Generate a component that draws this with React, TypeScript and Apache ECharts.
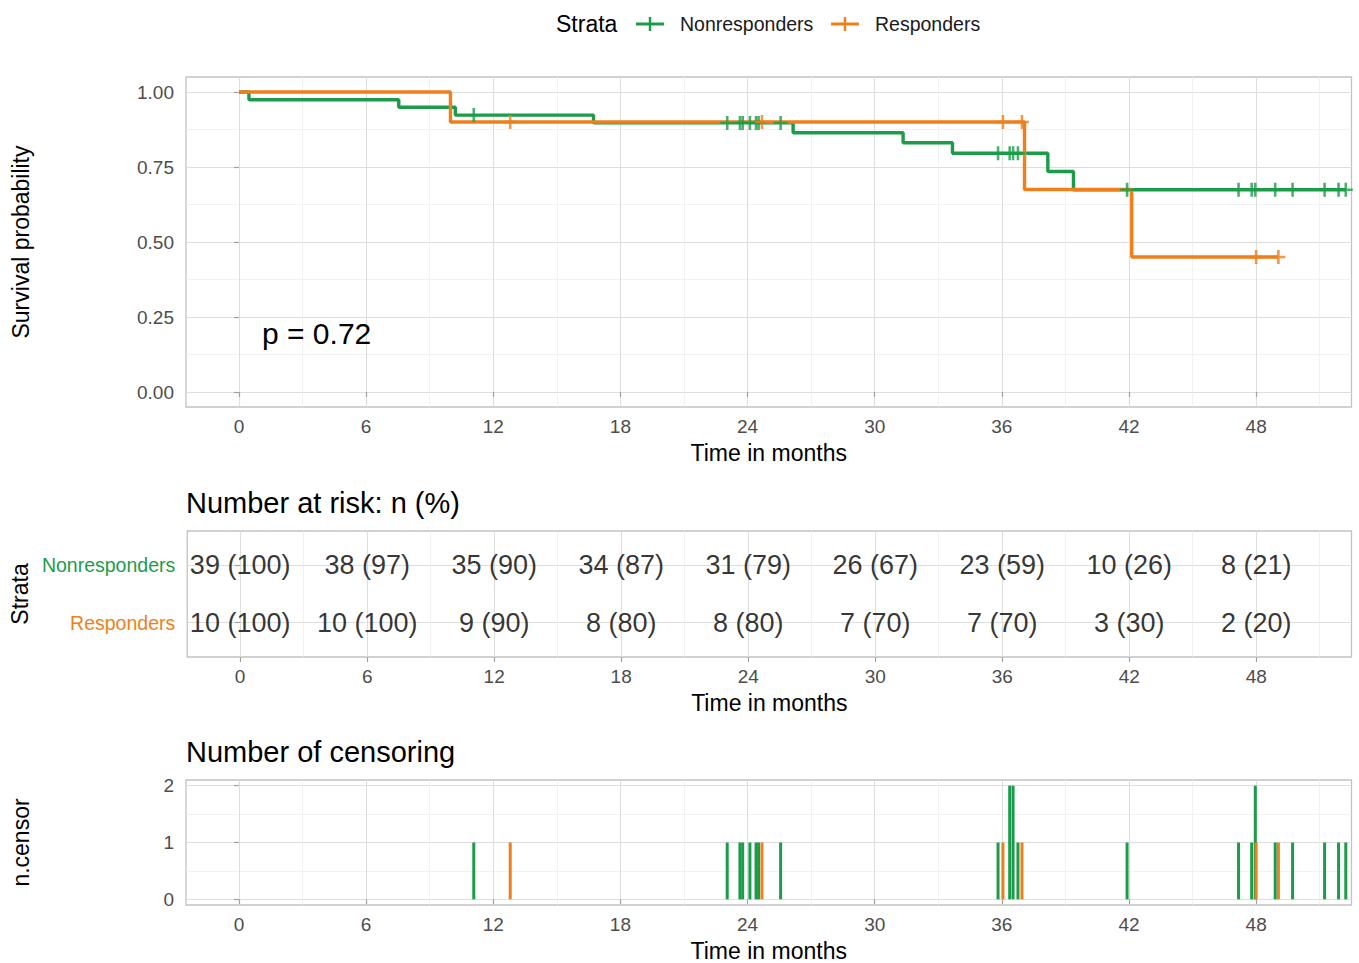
import React, { useEffect, useRef } from 'react';
import * as echarts from 'echarts';

const FONT = "'Liberation Sans', Arial, Helvetica, sans-serif";
const GREEN = '#1c9c4a';
const ORANGE = '#ef7f1a';

const strata = ['Nonresponders', 'Responders'];
const xTicks = [0, 6, 12, 18, 24, 30, 36, 42, 48];
const xMinorTicks = [3, 9, 15, 21, 27, 33, 39, 45, 51];
const survTicks = [0, 0.25, 0.5, 0.75, 1];
const survMinorTicks = [0.125, 0.375, 0.625, 0.875];
const censorTicks = [0, 1, 2];
const censorMinorTicks = [0.5, 1.5];

// Kaplan-Meier step curves (time, survival)
const nonrespTimes = [0, 0.47, 7.54, 10.21, 16.73, 26.15, 31.34, 33.67, 38.17, 39.38, 52.23];
const nonrespSurv = [1, 0.974, 0.949, 0.923, 0.897, 0.864, 0.831, 0.796, 0.735, 0.674, 0.674];
const respTimes = [0, 9.98, 37.07, 42.13, 49.05];
const respSurv = [1, 0.9, 0.675, 0.45, 0.45];

// censoring times and counts
const nonrespCensorTimes = [11.08, 23.04, 23.64, 23.77, 24.11, 24.4, 24.52, 25.56, 35.82, 36.37, 36.53, 36.76, 41.91, 47.17, 47.79, 47.96, 48.9, 49.72, 51.23, 51.89, 52.23];
const nonrespCensorCounts = [1, 1, 1, 1, 1, 1, 1, 1, 1, 2, 2, 1, 1, 1, 1, 2, 1, 1, 1, 1, 1];
const respCensorTimes = [12.8, 24.68, 36.05, 36.95, 48.0, 49.05];
const respCensorCounts = [1, 1, 1, 1, 1, 1];

// number at risk
const nonrespAtRisk = [39, 38, 35, 34, 31, 26, 23, 10, 8];
const nonrespPct = [100, 97, 90, 87, 79, 67, 59, 26, 21];
const respAtRisk = [10, 10, 9, 8, 8, 7, 7, 3, 2];
const respPct = [100, 100, 90, 80, 80, 70, 70, 30, 20];

const pValueText = 'p = 0.72';

const X_MIN = -2.5;
const X_MAX = 52.5;

function survAt(times: number[], surv: number[], t: number) {
  let s = surv[0];
  for (let i = 0; i < times.length; i++) {
    if (times[i] <= t) s = surv[i];
  }
  return s;
}

const tickStyle = { length: 5, lineStyle: { color: '#a0a0a0', width: 1.2 } };
const labelStyle = { fontSize: 19, color: '#4d4d4d', fontFamily: FONT };
const majorSplit = { show: true, lineStyle: { color: '#dedede', width: 1.1 } };
const minorSplit = { show: true, lineStyle: { color: '#eeeeee', width: 0.8 } };
const nameStyle = { fontSize: 23, color: '#000', fontFamily: FONT };

function makeXAxes(gridIndex: number) {
  return [
    {
      type: 'value', gridIndex, min: X_MIN, max: X_MAX, position: 'bottom',
      name: 'Time in months', nameLocation: 'middle', nameGap: 34, nameTextStyle: nameStyle,
      axisLine: { show: false },
      axisTick: { show: true, ...tickStyle, customValues: xTicks },
      axisLabel: { ...labelStyle, margin: 10, customValues: xTicks, formatter: (v: number) => String(v) },
      splitLine: majorSplit,
    },
    {
      type: 'value', gridIndex, min: X_MIN, max: X_MAX, position: 'bottom',
      axisLine: { show: false },
      axisTick: { show: false, customValues: xMinorTicks },
      axisLabel: { show: false, customValues: xMinorTicks },
      splitLine: minorSplit,
    },
  ];
}

function censorSeries(name: string, times: number[], counts: number[], color: string) {
  return {
    type: 'custom', name, xAxisIndex: 4, yAxisIndex: 3, clip: true,
    data: times.map((t, i) => [t, counts[i]]),
    encode: { x: 0, y: 1 },
    renderItem: (params: any, api: any) => {
      const x = api.value(0);
      const n = api.value(1);
      const p0 = api.coord([x, 0]);
      const p1 = api.coord([x, n]);
      return {
        type: 'line',
        shape: { x1: p0[0], y1: p0[1], x2: p1[0], y2: p1[1] },
        style: { stroke: color, lineWidth: 3 },
      };
    },
  };
}

function riskSeries(name: string, row: number, counts: number[], pcts: number[]) {
  return {
    type: 'scatter', name, xAxisIndex: 2, yAxisIndex: 2,
    symbolSize: 1, itemStyle: { color: 'rgba(0,0,0,0)' },
    data: xTicks.map((t, i) => ({ value: [t, row], label: { formatter: `${counts[i]} (${pcts[i]})` } })),
    label: { show: true, position: 'inside', fontSize: 27, color: '#000', fontFamily: FONT },
    z: 10,
  };
}

const plusSymbol = 'path://M5.7,0H8.3V5.8H14V8.2H8.3V14H5.7V8.2H0V5.8H5.7Z';

export default function App() {
  const ref = useRef<HTMLDivElement>(null);
  useEffect(() => {
    if (!ref.current) return;
    const chart = echarts.init(ref.current, undefined, { renderer: 'svg' });
    const gridCommon = { left: 186, width: 1165.5, show: true, borderColor: '#c2c2c2', borderWidth: 1.3, containLabel: false };
    const titleStyle = { fontWeight: 'normal', color: '#000', fontFamily: FONT };
    const option: any = {
      animation: false,
      backgroundColor: '#ffffff',
      textStyle: { fontFamily: FONT },
      title: [
        { text: 'Number at risk: n (%)', left: 186, top: 488, padding: 0, textStyle: { fontSize: 29, ...titleStyle } },
        { text: 'Number of censoring', left: 186, top: 737, padding: 0, textStyle: { fontSize: 29, ...titleStyle } },
        { text: pValueText, left: 262, top: 318, padding: 0, textStyle: { fontSize: 30, ...titleStyle } },
      ],
      grid: [
        { ...gridCommon, top: 77, height: 330 },
        { ...gridCommon, top: 531, height: 126 },
        { ...gridCommon, top: 780, height: 127 },
      ],
      xAxis: [...makeXAxes(0), ...makeXAxes(1), ...makeXAxes(2)],
      yAxis: [
        {
          type: 'value', gridIndex: 0, min: -0.05, max: 1.05,
          name: 'Survival probability', nameLocation: 'middle', nameGap: 154, nameTextStyle: nameStyle,
          axisLine: { show: false },
          axisTick: { show: true, ...tickStyle, customValues: survTicks },
          axisLabel: { ...labelStyle, margin: 12, customValues: survTicks, formatter: (v: number) => v.toFixed(2) },
          splitLine: majorSplit,
        },
        {
          type: 'value', gridIndex: 0, min: -0.05, max: 1.05,
          axisLine: { show: false },
          axisTick: { show: false, customValues: survMinorTicks },
          axisLabel: { show: false, customValues: survMinorTicks },
          splitLine: minorSplit,
        },
        {
          type: 'value', gridIndex: 1, min: 0.4, max: 2.6,
          name: 'Strata', nameLocation: 'middle', nameGap: 154, nameTextStyle: nameStyle,
          axisLine: { show: false },
          axisTick: { show: true, ...tickStyle, customValues: [1, 2] },
          axisLabel: {
            ...labelStyle, margin: 12, customValues: [1, 2],
            formatter: (v: number) => (v === 2 ? '{g|' + strata[0] + '}' : '{o|' + strata[1] + '}'),
            rich: {
              g: { color: GREEN, fontSize: 19.5, fontFamily: FONT },
              o: { color: ORANGE, fontSize: 19.5, fontFamily: FONT },
            },
          },
          splitLine: majorSplit,
        },
        {
          type: 'value', gridIndex: 2, min: -0.1, max: 2.1,
          name: 'n.censor', nameLocation: 'middle', nameGap: 154, nameTextStyle: nameStyle,
          axisLine: { show: false },
          axisTick: { show: true, ...tickStyle, customValues: censorTicks },
          axisLabel: { ...labelStyle, margin: 12, customValues: censorTicks, formatter: (v: number) => String(v) },
          splitLine: majorSplit,
        },
        {
          type: 'value', gridIndex: 2, min: -0.1, max: 2.1,
          axisLine: { show: false },
          axisTick: { show: false, customValues: censorMinorTicks },
          axisLabel: { show: false, customValues: censorMinorTicks },
          splitLine: minorSplit,
        },
      ],
      series: [
        {
          type: 'line', name: strata[0], xAxisIndex: 0, yAxisIndex: 0, step: 'end', showSymbol: false,
          data: nonrespTimes.map((t, i) => [t, nonrespSurv[i]]),
          lineStyle: { color: GREEN, width: 3.4 }, itemStyle: { color: GREEN }, z: 3,
        },
        {
          type: 'line', name: strata[1], xAxisIndex: 0, yAxisIndex: 0, step: 'end', showSymbol: false,
          data: respTimes.map((t, i) => [t, respSurv[i]]),
          lineStyle: { color: ORANGE, width: 3.4 }, itemStyle: { color: ORANGE }, z: 4,
        },
        {
          type: 'scatter', name: strata[0] + ' censored', xAxisIndex: 0, yAxisIndex: 0,
          symbol: plusSymbol, symbolSize: 14,
          data: nonrespCensorTimes.map((t) => [t, survAt(nonrespTimes, nonrespSurv, t)]),
          itemStyle: { color: GREEN }, z: 5,
        },
        {
          type: 'scatter', name: strata[1] + ' censored', xAxisIndex: 0, yAxisIndex: 0,
          symbol: plusSymbol, symbolSize: 14,
          data: respCensorTimes.map((t) => [t, survAt(respTimes, respSurv, t)]),
          itemStyle: { color: ORANGE }, z: 6,
        },
        riskSeries('risk ' + strata[0], 2, nonrespAtRisk, nonrespPct),
        riskSeries('risk ' + strata[1], 1, respAtRisk, respPct),
        censorSeries(strata[0] + ' n.censor', nonrespCensorTimes, nonrespCensorCounts, GREEN),
        censorSeries(strata[1] + ' n.censor', respCensorTimes, respCensorCounts, ORANGE),
      ],
      graphic: [
        { type: 'text', x: 556, y: 24, style: { text: 'Strata', fontSize: 23, fontFamily: FONT, fill: '#000', verticalAlign: 'middle' } },
        { type: 'line', shape: { x1: 636, y1: 24, x2: 664, y2: 24 }, style: { stroke: GREEN, lineWidth: 3 } },
        { type: 'line', shape: { x1: 650, y1: 17, x2: 650, y2: 31 }, style: { stroke: GREEN, lineWidth: 2.4 } },
        { type: 'text', x: 680, y: 24, style: { text: strata[0], fontSize: 19.5, fontFamily: FONT, fill: '#1a1a1a', verticalAlign: 'middle' } },
        { type: 'line', shape: { x1: 831, y1: 24, x2: 859, y2: 24 }, style: { stroke: ORANGE, lineWidth: 3 } },
        { type: 'line', shape: { x1: 845, y1: 17, x2: 845, y2: 31 }, style: { stroke: ORANGE, lineWidth: 2.4 } },
        { type: 'text', x: 875, y: 24, style: { text: strata[1], fontSize: 19.5, fontFamily: FONT, fill: '#1a1a1a', verticalAlign: 'middle' } },
      ],
    };
    chart.setOption(option);
    return () => chart.dispose();
  }, []);
  return <div ref={ref} style={{ position: 'fixed', left: 0, top: 0, width: 1359, height: 963 }} />;
}
